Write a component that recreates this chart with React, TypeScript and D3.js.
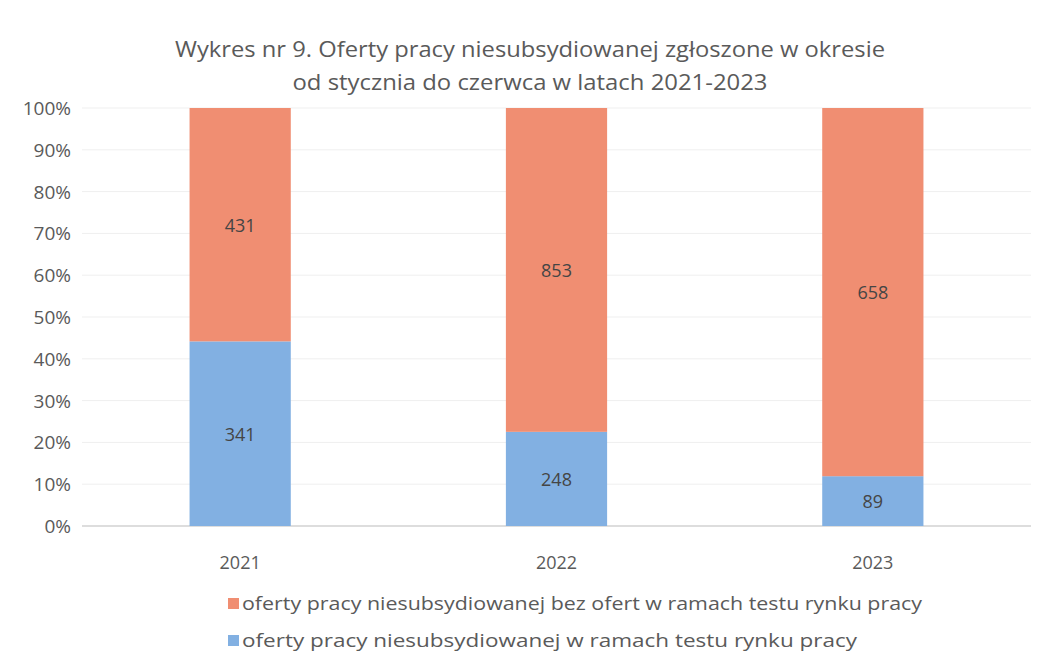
import React from "react";
import * as d3 from "d3";

const years = ["2021", "2022", "2023"];
const testValues = [341, 248, 89];
const nonTestValues = [431, 853, 658];
const yTicks = [0, 0.1, 0.2, 0.3, 0.4, 0.5, 0.6, 0.7, 0.8, 0.9, 1];
const titleLines = [
  "Wykres nr 9. Oferty pracy niesubsydiowanej zgłoszone w okresie",
  "od stycznia do czerwca w latach 2021-2023",
];
const seriesNames = [
  "oferty pracy niesubsydiowanej bez ofert w ramach testu rynku pracy",
  "oferty pracy niesubsydiowanej w ramach testu rynku pracy",
];
const colorOrange = "#F08E72";
const colorBlue = "#82B0E2";
const textColor = "#5a5a5a";
const font = "'Open Sans', 'Liberation Sans', sans-serif";

export default function App() {
  const W = 1055, H = 654;
  const left = 82, right = 1031, top = 108, bottom = 526;
  const x = d3.scaleBand().domain(years).range([left, right]).paddingInner(0.68).paddingOuter(0.34);
  const y = d3.scaleLinear().domain([0, 1]).range([bottom, top]);
  const fmt = d3.format(".0%");
  const titleWidths = [710, 475];
  const legendWidths = [680, 615];

  return (
    <svg width={W} height={H} style={{ position: "absolute", left: 0, top: 0, background: "#fff" }}>
      <rect width={W} height={H} fill="#fff" />
      {titleLines.map((t, i) => (
        <text key={i} x={530} y={57 + i * 33} textAnchor="middle" fontFamily={font} fontSize={21}
          textLength={titleWidths[i]} lengthAdjust="spacingAndGlyphs" fill={textColor}>{t}</text>
      ))}
      {yTicks.map((t) => (
        <g key={t}>
          {t > 0 && <line x1={left} x2={right} y1={y(t)} y2={y(t)} stroke="#efefef" strokeWidth={1} />}
          <text x={71} y={y(t) + 7} textAnchor="end" fontFamily={font} fontSize={19} fill={textColor}>{fmt(t)}</text>
        </g>
      ))}
      <line x1={left} x2={right} y1={bottom} y2={bottom} stroke="#d2d2d2" strokeWidth={1.5} />
      {years.map((yr, i) => {
        const total = testValues[i] + nonTestValues[i];
        const pTest = testValues[i] / total;
        const bx = x(yr)!;
        const bw = x.bandwidth();
        return (
          <g key={yr}>
            <rect x={bx} y={y(pTest)} width={bw} height={y(0) - y(pTest)} fill={colorBlue} />
            <rect x={bx} y={y(1)} width={bw} height={y(pTest) - y(1)} fill={colorOrange} />
            <text x={bx + bw / 2} y={(y(0) + y(pTest)) / 2 + 7} textAnchor="middle" fontFamily={font} fontSize={18} fill="#454545">{testValues[i]}</text>
            <text x={bx + bw / 2} y={(y(pTest) + y(1)) / 2 + 7} textAnchor="middle" fontFamily={font} fontSize={18} fill="#454545">{nonTestValues[i]}</text>
            <text x={bx + bw / 2} y={569} textAnchor="middle" fontFamily={font} fontSize={18} fill={textColor}>{yr}</text>
          </g>
        );
      })}
      {seriesNames.map((n, i) => (
        <g key={n}>
          <rect x={228} y={598 + i * 37} width={11} height={11} fill={i === 0 ? colorOrange : colorBlue} />
          <text x={242} y={610 + i * 37} fontFamily={font} fontSize={19} textLength={legendWidths[i]}
            lengthAdjust="spacingAndGlyphs" fill={textColor}>{n}</text>
        </g>
      ))}
    </svg>
  );
}
